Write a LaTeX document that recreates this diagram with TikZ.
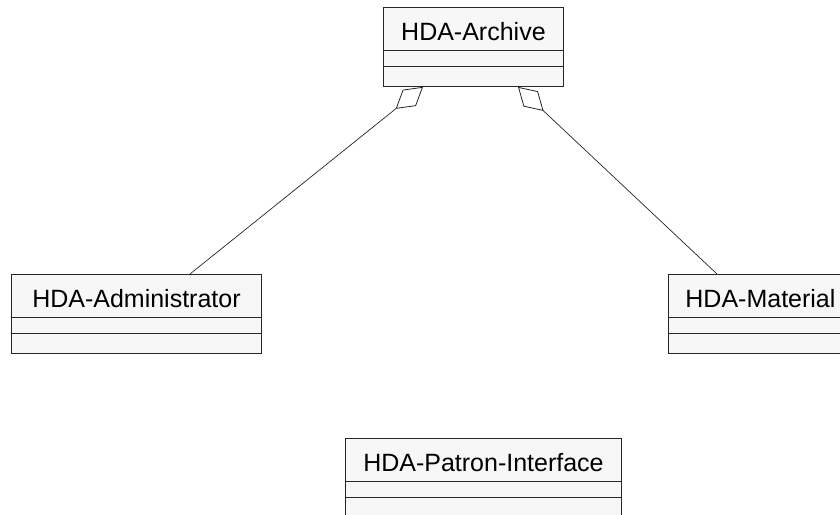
\documentclass[tikz,border=0pt]{standalone}
\usepackage{fontspec}
\setmainfont{Liberation Sans}
\usetikzlibrary{arrows.meta,calc}
\tikzset{
  classbox/.style={draw=black!85, line width=0.9pt, fill=black!3, rectangle, inner sep=0pt, minimum height=79pt, anchor=north west},
  sepline/.style={draw=black!85, line width=0.9pt},
  classname/.style={anchor=base, inner sep=0pt, font=\fontsize{25}{29}\selectfont},
  agg/.style={draw=black!85, line width=0.7pt, -{Diamond[open, length=35pt, width=21pt, line width=0.8pt]}}
}
\newcommand{\umlcls}[5]{%
  \node[classbox, minimum width=#4pt] (#1) at (#2,#3) {};
  \draw[sepline] ($(#1.north west)+(0,43)$) -- ($(#1.north east)+(0,43)$);
  \draw[sepline] ($(#1.north west)+(0,59)$) -- ($(#1.north east)+(0,59)$);
  \node[classname] (#1-name) at ($(#1.north)+(0,33)$) {#5};
}
\begin{document}
\begin{tikzpicture}[x=1pt, y=-1pt]
\useasboundingbox (0,0) rectangle (840,514);
\clip (0,0) rectangle (840,514);
\umlcls{arc}{383}{7}{180}{HDA-Archive}
\umlcls{adm}{11}{274}{250}{HDA-Administrator}
\umlcls{mat}{668}{274}{184}{HDA-Material}
\umlcls{pat}{345}{438}{276}{HDA-Patron-Interface}
\coordinate (admtop) at ($(adm.north west)+(179,0)$);
\coordinate (mattop) at ($(mat.north west)+(49,0)$);
\coordinate (arcl) at ($(arc.south west)+(40,0)$);
\coordinate (arcr) at ($(arc.south west)+(135,0)$);
\draw[agg] (admtop) -- (arcl);
\draw[agg] (mattop) -- (arcr);
\end{tikzpicture}
\end{document}
